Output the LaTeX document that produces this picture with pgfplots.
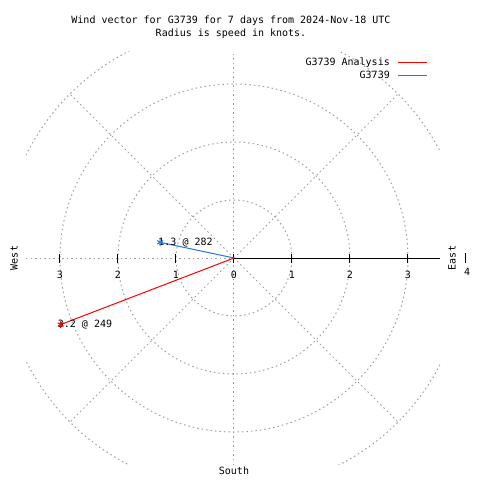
\documentclass[border=0pt]{standalone}
\usepackage{fontspec}
\setmainfont{DejaVu Sans Mono}
\usepackage{pgfplots}
\pgfplotsset{compat=1.18}
\definecolor{gridgray}{RGB}{160,160,160}
\definecolor{vblue}{RGB}{30,120,230}
\tikzset{gridl/.style={gridgray, line width=1bp, dash pattern=on 1.5bp off 3bp}}
\pgfplotsset{wlegend/.style={legend image code/.code={\draw[##1] (0bp,0bp) -- (29bp,0bp);}}}
\begin{document}
\fontsize{10bp}{13bp}\selectfont
\begin{tikzpicture}
\path (0,0) rectangle (480bp,480bp);
\node[inner sep=0pt] at (231bp,459bp) {Wind vector for G3739 for 7 days from 2024-Nov-18 UTC};
\node[inner sep=0pt] at (231bp,446bp) {Radius is speed in knots.};
\begin{axis}[at={(26bp,15bp)}, anchor=south west, scale only axis,
  width=414bp, height=413bp,
  xmin=-3.586, xmax=3.552, ymin=-3.569, ymax=3.552,
  axis lines=none, clip=false,
  legend style={at={(0.971,0.99)}, anchor=north east, draw=none, fill=none,
    inner sep=0pt, font=\fontsize{10bp}{13bp}\selectfont, row sep=0bp,
    cells={anchor=east}, /tikz/every odd column/.append style={column sep=6bp}},
  legend plot pos=right,
]
\begin{scope}
\clip (rel axis cs:0,0) rectangle (rel axis cs:1,1);
\draw[gridl] (axis cs:0,0) circle[radius=58bp];
\draw[gridl] (axis cs:0,0) circle[radius=116bp];
\draw[gridl] (axis cs:0,0) circle[radius=174bp];
\draw[gridl] (axis cs:0,0) circle[radius=232bp];
\draw[gridl] (axis cs:0,0) -- ++(45:232bp);
\draw[gridl] (axis cs:0,0) -- ++(135:232bp);
\draw[gridl] (axis cs:0,0) -- ++(225:232bp);
\draw[gridl] (axis cs:0,0) -- ++(315:232bp);
\draw[gridl] (axis cs:0,-3.569) -- (axis cs:0,3.552);
\draw[gridl] (axis cs:-3.586,0) -- (axis cs:0,0);
\end{scope}
\draw[black, line width=1bp] (axis cs:0,0) -- (axis cs:3.552,0);
\draw[black, line width=1bp] (axis cs:-3,0) ++(0bp,-4.5bp) -- ++(0bp,9bp);
\draw[black, line width=1bp] (axis cs:-2,0) ++(0bp,-4.5bp) -- ++(0bp,9bp);
\draw[black, line width=1bp] (axis cs:-1,0) ++(0bp,-4.5bp) -- ++(0bp,9bp);
\draw[black, line width=1bp] (axis cs:0,0) ++(0bp,-4.5bp) -- ++(0bp,9bp);
\draw[black, line width=1bp] (axis cs:1,0) ++(0bp,-4.5bp) -- ++(0bp,9bp);
\draw[black, line width=1bp] (axis cs:2,0) ++(0bp,-4.5bp) -- ++(0bp,9bp);
\draw[black, line width=1bp] (axis cs:3,0) ++(0bp,-4.5bp) -- ++(0bp,9bp);
\draw[black, line width=1bp] (axis cs:4,0) ++(0bp,-5bp) -- ++(0bp,10bp);
\node at (axis cs:-3,0) [yshift=-17bp] {3};
\node at (axis cs:-2,0) [yshift=-17bp] {2};
\node at (axis cs:-1,0) [yshift=-17bp] {1};
\node at (axis cs:0,0) [yshift=-17bp] {0};
\node at (axis cs:1,0) [yshift=-17bp] {1};
\node at (axis cs:2,0) [yshift=-17bp] {2};
\node at (axis cs:3,0) [yshift=-17bp] {3};
\node at (axis cs:4.02,0) [yshift=-14bp] {4};
\node[rotate=90] at (axis cs:3.759,0) {East};
\node[rotate=90] at (axis cs:-3.793,0) {West};
\node at (axis cs:0,-3.672) {South};
\addplot[red, line width=1bp, mark=asterisk, mark indices={2}, mark size=3.5bp, mark options={solid}, wlegend] coordinates {(0,0) (-2.9875,-1.1468)};
\addlegendentry{G3739 Analysis}
\addplot[vblue, line width=1bp, mark=asterisk, mark indices={2}, mark size=3.5bp, mark options={solid}, wlegend] coordinates {(0,0) (-1.2716,0.2703)};
\addlegendentry{G3739}
\node[anchor=west, inner sep=0pt, xshift=-3bp] at (axis cs:-2.9875,-1.1468) {3.2 @ 249};
\node[anchor=west, inner sep=0pt, xshift=-2bp] at (axis cs:-1.2716,0.2703) {1.3 @ 282};
\end{axis}
\end{tikzpicture}
\end{document}
